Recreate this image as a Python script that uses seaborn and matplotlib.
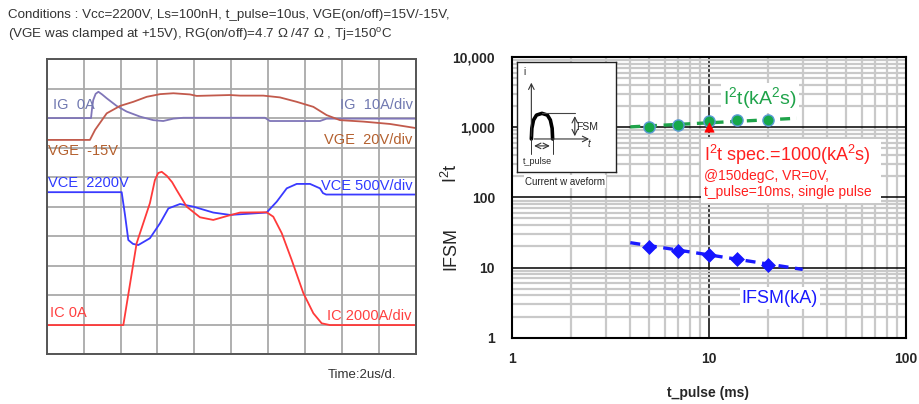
import numpy as np
import pandas as pd
import matplotlib
matplotlib.use("Agg")
import matplotlib.pyplot as plt
import matplotlib.ticker as mticker
from matplotlib.patches import Rectangle
import seaborn as sns

# ---------------- left panel: oscilloscope traces (time in us, level in divisions) -------------
ig_t = [0, 2.40, 2.46, 2.52, 2.65, 2.80, 3.00, 3.25, 3.79, 4.33, 5.05, 5.77, 6.31, 6.86, 7.40,
        11.82, 12.09, 14.80, 15.16, 20]
ig_v = [8.0, 8.0, 8.35, 8.61, 8.82, 8.89, 8.80, 8.67, 8.41, 8.22, 8.05, 7.93, 7.90, 7.98, 8.01,
        8.01, 7.90, 7.90, 7.98, 7.98]

vge_t = [0, 2.34, 2.62, 3.25, 3.97, 4.69, 5.42, 6.14, 6.86, 7.76, 8.12, 9.93, 10.47, 11.73,
         12.63, 13.54, 14.44, 15.16, 15.88, 17.15, 18.59, 20]
vge_v = [7.26, 7.26, 7.60, 8.16, 8.41, 8.55, 8.72, 8.81, 8.84, 8.80, 8.75, 8.78, 8.76, 8.76,
         8.70, 8.55, 8.38, 8.10, 7.93, 7.88, 7.80, 7.66]

vce_t = [0, 4.06, 4.24, 4.42, 4.67, 4.96, 5.59, 6.14, 6.59, 7.22, 7.94, 9.02, 9.93, 11.91,
         12.46, 13.0, 13.54, 14.26, 14.8, 14.96, 15.13, 20]
vce_v = [5.49, 5.49, 4.72, 3.87, 3.74, 3.70, 3.93, 4.44, 4.94, 5.09, 5.0, 4.80, 4.72, 4.80,
         5.17, 5.62, 5.77, 5.77, 5.62, 5.46, 5.41, 5.41]

ic_t = [0, 4.15, 4.87, 5.59, 5.86, 6.04, 6.23, 6.51, 6.79, 7.04, 7.58, 8.30, 9.02, 9.75, 10.47,
        11.91, 12.27, 12.73, 13.27, 13.90, 14.44, 14.89, 15.34, 20]
ic_v = [0.99, 0.99, 3.76, 5.12, 5.90, 6.14, 6.18, 6.04, 5.83, 5.56, 5.0, 4.64, 4.55, 4.68, 4.80,
        4.81, 4.66, 4.10, 3.19, 2.07, 1.39, 1.05, 0.99, 0.99]

# ---------------- right panel: surge ratings ----------------
pulse_ms = [5, 7, 10, 14, 20]
i2t_kA2s = [1015, 1080, 1210, 1260, 1250]
ifsm_kA = [19.8, 17.2, 15.1, 13.1, 10.9]
i2t_trend_ms = [4, 28]
i2t_trend = [1010, 1340]
ifsm_trend_ms = [4, 30]
ifsm_trend = [22.6, 9.4]
spec_ms = [10]
spec_i2t = [1000]
y_ticks = [1, 10, 100, 1000, 10000]
x_ticks = [1, 10, 100]

# schematic of the current waveform (inset, arbitrary units 0..100)
pulse_shape_x = [14.8, 15.3, 17.0, 20.0, 25.5, 31.0, 34.0, 35.8, 36.3]
pulse_shape_y = [30.3, 40.0, 47.5, 52.0, 53.6, 52.0, 47.5, 40.0, 30.3]

sns.set_style("white")
plt.rcParams["font.family"] = ["Liberation Sans", "DejaVu Sans"]
plt.rcParams["mathtext.default"] = "regular"

W, H = 919, 404
fig = plt.figure(figsize=(W / 100, H / 100), dpi=100)


def fx(px):
    return px / W


def fy(py):
    return 1 - py / H


# ======================= LEFT PANEL =======================
axL = fig.add_axes([fx(46.7), fy(354.3), 369.3 / W, 295.3 / H])
axL.set_xlim(0, 20)
axL.set_ylim(0, 10)
axL.xaxis.set_major_locator(mticker.MultipleLocator(2))
axL.yaxis.set_major_locator(mticker.MultipleLocator(1))
axL.xaxis.set_minor_locator(mticker.MultipleLocator(1))
axL.yaxis.set_minor_locator(mticker.MultipleLocator(0.5))
axL.grid(True, which="major", color="#a9a9a9", lw=1.3)
axL.set_axisbelow(True)
axL.tick_params(which="major", length=0, labelbottom=False, labelleft=False)
axL.tick_params(which="minor", direction="in", length=4, color="#555555", width=1)
for s in axL.spines.values():
    s.set_color("#555555")
    s.set_linewidth(1.4)

traces = [
    (ig_t, ig_v, "#8076b8"),
    (vge_t, vge_v, "#c25a4c"),
    (vce_t, vce_v, "#3a3aff"),
    (ic_t, ic_v, "#ff3a3a"),
]
for tt, vv, col in traces:
    sns.lineplot(x=tt, y=vv, ax=axL, color=col, lw=1.3, estimator=None, sort=False)
axL.set_xlabel("")
axL.set_ylabel("")

lab_fs = 10.5
axL.text(0.34, 8.44, "IG  0A", color="#7078b0", fontsize=lab_fs, ha="left", va="center")
axL.text(19.83, 8.44, "IG  10A/div", color="#7078b0", fontsize=lab_fs, ha="right", va="center")
axL.text(0.09, 6.90, "VGE  -15V", color="#b4602e", fontsize=lab_fs, ha="left", va="center")
axL.text(19.78, 7.26, "VGE  20V/div", color="#b4602e", fontsize=lab_fs, ha="right", va="center")
axL.text(0.09, 5.79, "VCE  2200V", color="#2f3aff", fontsize=lab_fs, ha="left", va="center")
axL.text(19.83, 5.69, "VCE 500V/div", color="#2f3aff", fontsize=lab_fs, ha="right", va="center")
axL.text(0.18, 1.41, "IC 0A", color="#ff4040", fontsize=lab_fs, ha="left", va="center")
axL.text(19.73, 1.31, "IC 2000A/div", color="#ff4040", fontsize=lab_fs, ha="right", va="center")

fig.text(fx(328), fy(375), "Time:2us/d.", fontsize=9.5, color="#333333", ha="left", va="center")
fig.text(fx(8), fy(15), "Conditions : Vcc=2200V, Ls=100nH, t_pulse=10us, VGE(on/off)=15V/-15V,",
         fontsize=9.6, color="#333333", ha="left", va="center")
fig.text(fx(8), fy(35), "(VGE was clamped at +15V), RG(on/off)=4.7 \u03a9 /47 \u03a9 , Tj=150$^{o}$C",
         fontsize=9.6, color="#333333", ha="left", va="center")

# ======================= RIGHT PANEL =======================
axR = fig.add_axes([fx(511.7), fy(337.7), 394 / W, 280.7 / H])
axR.set_xscale("log")
axR.set_yscale("log")
axR.set_xlim(1, 100)
axR.set_ylim(1, 10000)
axR.xaxis.set_major_locator(mticker.FixedLocator(x_ticks))
axR.yaxis.set_major_locator(mticker.FixedLocator(y_ticks))
axR.xaxis.set_minor_locator(mticker.LogLocator(base=10, subs=np.arange(2, 10), numticks=20))
axR.yaxis.set_minor_locator(mticker.LogLocator(base=10, subs=np.arange(2, 10), numticks=20))
axR.xaxis.set_major_formatter(mticker.FuncFormatter(lambda v, p: f"{v:,.0f}"))
axR.yaxis.set_major_formatter(mticker.FuncFormatter(lambda v, p: f"{v:,.0f}"))
axR.xaxis.set_minor_formatter(mticker.NullFormatter())
axR.yaxis.set_minor_formatter(mticker.NullFormatter())
axR.grid(True, which="minor", color="#c9c9c9", lw=1.6)
axR.grid(True, which="major", color="black", lw=1.1)
axR.set_axisbelow(True)
axR.tick_params(which="both", length=0)
axR.tick_params(axis="y", pad=12)
axR.tick_params(axis="x", pad=10)
for lab in axR.get_xticklabels() + axR.get_yticklabels():
    lab.set_fontweight("bold")
    lab.set_fontsize(10)
for s in axR.spines.values():
    s.set_color("black")
    s.set_linewidth(1.5)

dash = (0, (3.0, 2.0))
sns.lineplot(x=i2t_trend_ms, y=i2t_trend, ax=axR, color="#1fa34a", lw=2.4, linestyle=dash,
             estimator=None, zorder=3)
sns.lineplot(x=ifsm_trend_ms, y=ifsm_trend, ax=axR, color="#1a1aff", lw=2.4, linestyle=dash,
             estimator=None, zorder=3)
sns.scatterplot(x=pulse_ms, y=i2t_kA2s, ax=axR, marker="o", s=65, color="#16a84a",
                edgecolor="#5b9bd5", linewidth=1.0, zorder=4)
sns.scatterplot(x=pulse_ms, y=ifsm_kA, ax=axR, marker="D", s=50, color="#1515ff",
                edgecolor="#1515ff", linewidth=0.5, zorder=4)
sns.scatterplot(x=spec_ms, y=spec_i2t, ax=axR, marker="^", s=45, color="#ff0000",
                edgecolor="#ff0000", linewidth=0.5, zorder=5)
axR.set_xlabel("")
axR.set_ylabel("")

# annotations
axR.add_patch(Rectangle((0.481, 0.48), 0.457, 0.227, transform=axR.transAxes,
                        facecolor="white", edgecolor="none", zorder=1.5))
axR.text(0.487, 0.651, "I$^2$t spec.=1000(kA$^2$s)", transform=axR.transAxes,
         color="#ff2020", fontsize=13, ha="left", va="center", zorder=6)
axR.text(0.487, 0.577, "@150degC, VR=0V,", transform=axR.transAxes,
         color="#ff2020", fontsize=10, ha="left", va="center", zorder=6)
axR.text(0.487, 0.519, "t_pulse=10ms, single pulse", transform=axR.transAxes,
         color="#ff2020", fontsize=10, ha="left", va="center", zorder=6)
axR.text(0.536, 0.854, "I$^2$t(kA$^2$s)", transform=axR.transAxes, color="#1fa34a",
         fontsize=14, ha="left", va="center", zorder=6,
         bbox=dict(facecolor="white", edgecolor="none", pad=1.5))
axR.text(0.584, 0.141, "IFSM(kA)", transform=axR.transAxes, color="#1a1aff",
         fontsize=13, ha="left", va="center", zorder=6,
         bbox=dict(facecolor="white", edgecolor="none", pad=1.5))

fig.text(fx(451), fy(173), "I$^2$t", rotation=90, fontsize=13, ha="center", va="center")
fig.text(fx(451), fy(248), "IFSM", rotation=90, fontsize=13, ha="center", va="center")
fig.text(fx(708), fy(392.7), "t_pulse (ms)", fontsize=10, fontweight="bold", ha="center", va="center")

# ---- inset: current waveform schematic ----
axI = fig.add_axes([fx(516.7), fy(172.3), 99 / W, 110 / H])
axI.set_xlim(0, 100)
axI.set_ylim(0, 100)
axI.set_xticks([])
axI.set_yticks([])
axI.set_facecolor("white")
for s in axI.spines.values():
    s.set_color("#222222")
    s.set_linewidth(1.0)
axI.annotate("", xy=(14.8, 84), xytext=(14.8, 30.3),
             arrowprops=dict(arrowstyle="->", lw=0.8, color="#333333"))
axI.annotate("", xy=(76, 30.3), xytext=(14.8, 30.3),
             arrowprops=dict(arrowstyle="->", lw=0.8, color="#333333"))
sns.lineplot(x=pulse_shape_x, y=pulse_shape_y, ax=axI, color="black", lw=2.6,
             estimator=None, sort=False)
axI.plot([25.5, 59], [53.6, 53.6], color="#444444", lw=0.8)
axI.annotate("", xy=(58.7, 53.6), xytext=(58.7, 30.3),
             arrowprops=dict(arrowstyle="<->", lw=0.8, color="#333333"))
axI.annotate("", xy=(36.3, 24), xytext=(14.8, 24),
             arrowprops=dict(arrowstyle="<->", lw=0.8, color="#333333"))
axI.plot([14.8, 14.8], [17, 30.3], color="#333333", lw=0.7)
axI.plot([36.3, 36.3], [17, 30.3], color="#333333", lw=0.7)
axI.text(7.7, 91, "i", fontsize=7, ha="center", va="center")
axI.text(60.3, 41, "FSM", fontsize=7.5, ha="left", va="center")
axI.text(73, 26, "t", fontsize=7, style="italic", ha="center", va="center")
axI.text(6, 10, "t_pulse", fontsize=6.5, ha="left", va="center")
axI.set_xlabel("")
axI.set_ylabel("")
fig.text(fx(565), fy(181.5), "Current w aveform", fontsize=7, ha="center", va="center",
         color="#222222", bbox=dict(facecolor="white", edgecolor="none", pad=1))

fig.savefig("out.png", dpi=100)
